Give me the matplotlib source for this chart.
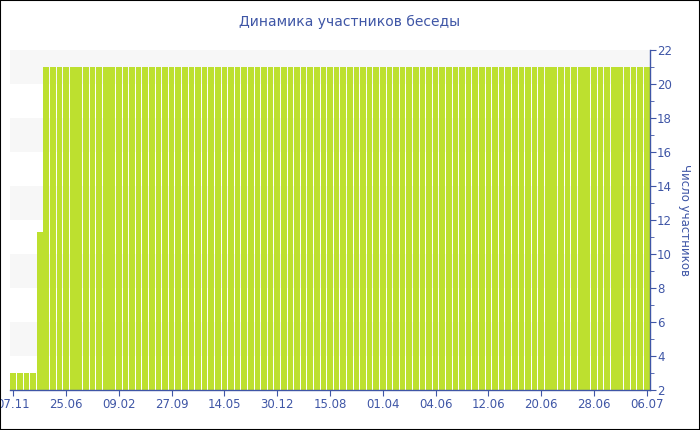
import matplotlib
matplotlib.use("Agg")
import matplotlib.pyplot as plt
import numpy as np

title = "Динамика участников беседы"
ylabel = "Число участников"
tick_labels = ["07.11", "25.06", "09.02", "27.09", "14.05", "30.12", "15.08",
               "01.04", "04.06", "12.06", "20.06", "28.06", "06.07"]
values = [3, 3, 3, 3, 11.3] + [21] * 92
tick_step = 8

blue = "#3f56a6"
bar_color = "#bde02f"

fig = plt.figure(figsize=(7, 4.3), dpi=100)
ax = fig.add_axes([10/700, 40/430, 640/700, 340/430])

n = len(values)
x = np.arange(n)
ax.set_xlim(-0.5, n - 0.5)
ax.set_ylim(2, 22)

# alternating background bands
for lo in range(4, 22, 4):
    ax.axhspan(lo, lo + 2, color="#f7f7f7", zorder=0, lw=0)

ax.bar(x, values, width=0.86, color=bar_color, zorder=2, linewidth=0)

ax.set_xticks(x[::tick_step])
ax.set_xticklabels(tick_labels)
ax.yaxis.tick_right()
ax.yaxis.set_label_position("right")
ax.set_yticks(range(2, 23, 2))
ax.set_yticks(range(3, 22, 2), minor=True)

for s in ["top", "left"]:
    ax.spines[s].set_visible(False)
for s in ["bottom", "right"]:
    ax.spines[s].set_color(blue)
    ax.spines[s].set_linewidth(1)

ax.tick_params(axis="x", colors=blue, labelsize=8.5, length=4, direction="out", pad=2)
ax.tick_params(axis="y", which="major", colors=blue, labelsize=8.5, length=4, pad=1)
ax.tick_params(axis="y", which="minor", colors=blue, length=3)

ax.set_ylabel(ylabel, color=blue, fontsize=8.5, rotation=270, labelpad=14)
fig.text(0.5, 1 - 22/430, title, ha="center", va="center", color=blue, fontsize=10)

# outer border
fig.add_artist(plt.Rectangle((0, 0), 1, 1, transform=fig.transFigure,
                             fill=False, edgecolor="black", linewidth=1.5))

fig.savefig("out.png", dpi=100)
